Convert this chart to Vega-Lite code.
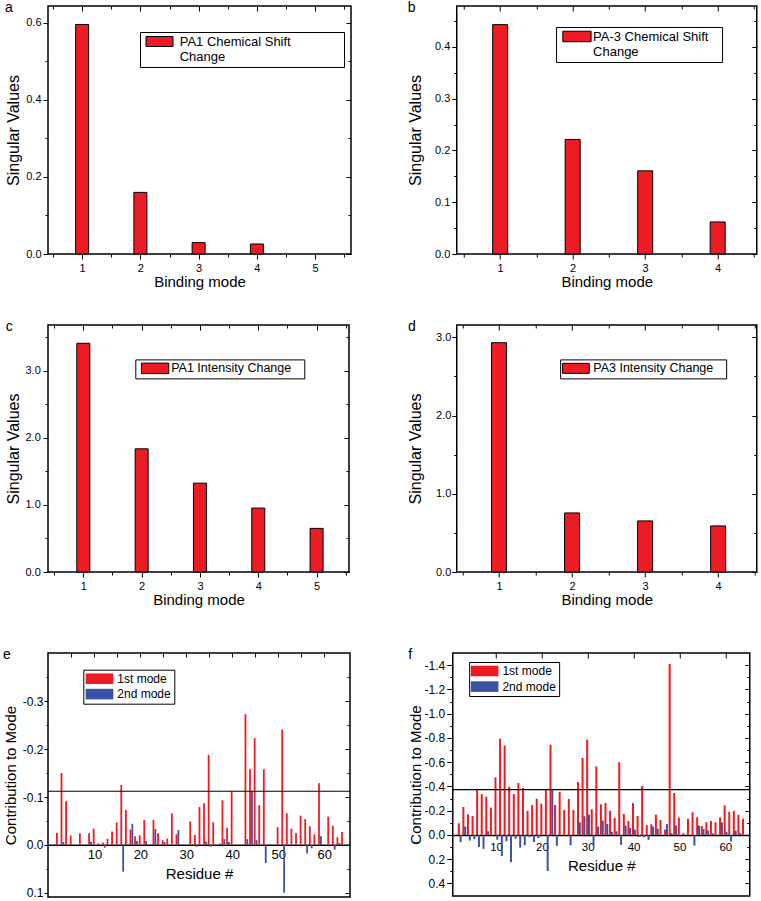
{
"$schema":"https://vega.github.io/schema/vega-lite/v6.json",
"background":"white",
"padding":{"left":2,"top":0,"right":0,"bottom":0},
"config":{
 "font":"Liberation Sans",
 "view":{"stroke":"black","strokeWidth":1.5},
 "axis":{"grid":false,"domain":false,"tickColor":"black","labelColor":"black","titleColor":"black","labelFont":"Liberation Sans","titleFont":"Liberation Sans","titleFontWeight":"normal","tickWidth":1,"labelOverlap":false,"labelFlush":false},
 "legend":{"labelFont":"Liberation Sans","labelColor":"black","labelLimit":0,"strokeColor":"black","fillColor":"white","title":null},
 "title":{"anchor":"start","frame":"bounds","fontSize":14,"fontWeight":"normal","font":"Liberation Sans","color":"black"}
},
"datasets":{
 "sv_a":[{"mode":1,"value":0.596,"series":"PA1 Chemical Shift Change"},{"mode":2,"value":0.160,"series":"PA1 Chemical Shift Change"},{"mode":3,"value":0.0295,"series":"PA1 Chemical Shift Change"},{"mode":4,"value":0.026,"series":"PA1 Chemical Shift Change"}],
 "sv_b":[{"mode":1,"value":0.443,"series":"PA-3 Chemical Shift Change"},{"mode":2,"value":0.2213,"series":"PA-3 Chemical Shift Change"},{"mode":3,"value":0.1606,"series":"PA-3 Chemical Shift Change"},{"mode":4,"value":0.0619,"series":"PA-3 Chemical Shift Change"}],
 "sv_c":[{"mode":1,"value":3.413,"series":"PA1 Intensity Change"},{"mode":2,"value":1.838,"series":"PA1 Intensity Change"},{"mode":3,"value":1.326,"series":"PA1 Intensity Change"},{"mode":4,"value":0.954,"series":"PA1 Intensity Change"},{"mode":5,"value":0.651,"series":"PA1 Intensity Change"}],
 "sv_d":[{"mode":1,"value":2.932,"series":"PA3 Intensity Change"},{"mode":2,"value":0.755,"series":"PA3 Intensity Change"},{"mode":3,"value":0.653,"series":"PA3 Intensity Change"},{"mode":4,"value":0.589,"series":"PA3 Intensity Change"}],
 "res_e":[
  {"residue":2,"mode":"1st mode","value":-0.025},{"residue":3,"mode":"1st mode","value":-0.150},{"residue":4,"mode":"1st mode","value":-0.091},{"residue":5,"mode":"1st mode","value":-0.0195},{"residue":7,"mode":"1st mode","value":-0.024},{"residue":9,"mode":"1st mode","value":-0.024},{"residue":10,"mode":"1st mode","value":-0.034},{"residue":11,"mode":"1st mode","value":-0.003},{"residue":12,"mode":"1st mode","value":-0.005},{"residue":13,"mode":"1st mode","value":-0.0125},{"residue":14,"mode":"1st mode","value":-0.028},{"residue":15,"mode":"1st mode","value":-0.047},{"residue":16,"mode":"1st mode","value":-0.125},{"residue":17,"mode":"1st mode","value":-0.073},{"residue":18,"mode":"1st mode","value":-0.032},{"residue":19,"mode":"1st mode","value":-0.018},{"residue":20,"mode":"1st mode","value":-0.020},{"residue":21,"mode":"1st mode","value":-0.052},{"residue":23,"mode":"1st mode","value":-0.052},{"residue":24,"mode":"1st mode","value":-0.024},{"residue":25,"mode":"1st mode","value":-0.010},{"residue":26,"mode":"1st mode","value":-0.013},{"residue":27,"mode":"1st mode","value":-0.066},{"residue":28,"mode":"1st mode","value":-0.022},{"residue":31,"mode":"1st mode","value":-0.049},{"residue":32,"mode":"1st mode","value":-0.021},{"residue":33,"mode":"1st mode","value":-0.079},{"residue":34,"mode":"1st mode","value":-0.087},{"residue":35,"mode":"1st mode","value":-0.188},{"residue":36,"mode":"1st mode","value":-0.047},{"residue":38,"mode":"1st mode","value":-0.093},{"residue":39,"mode":"1st mode","value":-0.036},{"residue":40,"mode":"1st mode","value":-0.112},{"residue":43,"mode":"1st mode","value":-0.273},{"residue":44,"mode":"1st mode","value":-0.158},{"residue":45,"mode":"1st mode","value":-0.223},{"residue":46,"mode":"1st mode","value":-0.083},{"residue":47,"mode":"1st mode","value":-0.158},{"residue":50,"mode":"1st mode","value":-0.037},{"residue":51,"mode":"1st mode","value":-0.241},{"residue":52,"mode":"1st mode","value":-0.066},{"residue":53,"mode":"1st mode","value":-0.034},{"residue":54,"mode":"1st mode","value":-0.025},{"residue":55,"mode":"1st mode","value":-0.061},{"residue":56,"mode":"1st mode","value":-0.054},{"residue":57,"mode":"1st mode","value":-0.039},{"residue":58,"mode":"1st mode","value":-0.022},{"residue":59,"mode":"1st mode","value":-0.129},{"residue":61,"mode":"1st mode","value":-0.059},{"residue":62,"mode":"1st mode","value":-0.040},{"residue":63,"mode":"1st mode","value":-0.016},{"residue":64,"mode":"1st mode","value":-0.027},
  {"residue":3,"mode":"2nd mode","value":-0.006},{"residue":9,"mode":"2nd mode","value":-0.007},{"residue":12,"mode":"2nd mode","value":0.006},{"residue":16,"mode":"2nd mode","value":0.056},{"residue":18,"mode":"2nd mode","value":-0.044},{"residue":19,"mode":"2nd mode","value":-0.008},{"residue":21,"mode":"2nd mode","value":-0.008},{"residue":23,"mode":"2nd mode","value":-0.033},{"residue":25,"mode":"2nd mode","value":-0.006},{"residue":28,"mode":"2nd mode","value":-0.031},{"residue":32,"mode":"2nd mode","value":0.004},{"residue":34,"mode":"2nd mode","value":-0.007},{"residue":35,"mode":"2nd mode","value":0.004},{"residue":37,"mode":"2nd mode","value":-0.003},{"residue":38,"mode":"2nd mode","value":-0.012},{"residue":39,"mode":"2nd mode","value":-0.006},{"residue":43,"mode":"2nd mode","value":-0.012},{"residue":44,"mode":"2nd mode","value":-0.112},{"residue":45,"mode":"2nd mode","value":-0.010},{"residue":47,"mode":"2nd mode","value":0.038},{"residue":51,"mode":"2nd mode","value":0.100},{"residue":56,"mode":"2nd mode","value":0.018},{"residue":57,"mode":"2nd mode","value":0.007},{"residue":59,"mode":"2nd mode","value":-0.018},{"residue":62,"mode":"2nd mode","value":0.010},{"residue":63,"mode":"2nd mode","value":-0.004}
 ],
 "res_f":[
  {"residue":2,"mode":"1st mode","value":-0.096},{"residue":3,"mode":"1st mode","value":-0.230},{"residue":4,"mode":"1st mode","value":-0.170},{"residue":5,"mode":"1st mode","value":-0.156},{"residue":6,"mode":"1st mode","value":-0.370},{"residue":7,"mode":"1st mode","value":-0.336},{"residue":8,"mode":"1st mode","value":-0.315},{"residue":9,"mode":"1st mode","value":-0.225},{"residue":10,"mode":"1st mode","value":-0.475},{"residue":11,"mode":"1st mode","value":-0.793},{"residue":12,"mode":"1st mode","value":-0.738},{"residue":13,"mode":"1st mode","value":-0.398},{"residue":14,"mode":"1st mode","value":-0.337},{"residue":15,"mode":"1st mode","value":-0.428},{"residue":16,"mode":"1st mode","value":-0.387},{"residue":17,"mode":"1st mode","value":-0.198},{"residue":18,"mode":"1st mode","value":-0.247},{"residue":19,"mode":"1st mode","value":-0.298},{"residue":20,"mode":"1st mode","value":-0.258},{"residue":21,"mode":"1st mode","value":-0.373},{"residue":22,"mode":"1st mode","value":-0.743},{"residue":23,"mode":"1st mode","value":-0.247},{"residue":24,"mode":"1st mode","value":-0.354},{"residue":25,"mode":"1st mode","value":-0.206},{"residue":26,"mode":"1st mode","value":-0.296},{"residue":27,"mode":"1st mode","value":-0.206},{"residue":28,"mode":"1st mode","value":-0.436},{"residue":29,"mode":"1st mode","value":-0.634},{"residue":30,"mode":"1st mode","value":-0.785},{"residue":31,"mode":"1st mode","value":-0.211},{"residue":32,"mode":"1st mode","value":-0.565},{"residue":33,"mode":"1st mode","value":-0.252},{"residue":34,"mode":"1st mode","value":-0.263},{"residue":35,"mode":"1st mode","value":-0.200},{"residue":36,"mode":"1st mode","value":-0.140},{"residue":37,"mode":"1st mode","value":-0.600},{"residue":38,"mode":"1st mode","value":-0.173},{"residue":39,"mode":"1st mode","value":-0.115},{"residue":40,"mode":"1st mode","value":-0.263},{"residue":41,"mode":"1st mode","value":-0.156},{"residue":42,"mode":"1st mode","value":-0.403},{"residue":43,"mode":"1st mode","value":-0.080},{"residue":44,"mode":"1st mode","value":-0.088},{"residue":45,"mode":"1st mode","value":-0.167},{"residue":46,"mode":"1st mode","value":-0.123},{"residue":47,"mode":"1st mode","value":-0.044},{"residue":48,"mode":"1st mode","value":-1.41},{"residue":49,"mode":"1st mode","value":-0.346},{"residue":50,"mode":"1st mode","value":-0.143},{"residue":51,"mode":"1st mode","value":-0.014},{"residue":52,"mode":"1st mode","value":-0.132},{"residue":53,"mode":"1st mode","value":-0.187},{"residue":54,"mode":"1st mode","value":-0.145},{"residue":55,"mode":"1st mode","value":-0.074},{"residue":56,"mode":"1st mode","value":-0.104},{"residue":57,"mode":"1st mode","value":-0.115},{"residue":58,"mode":"1st mode","value":-0.104},{"residue":59,"mode":"1st mode","value":-0.145},{"residue":60,"mode":"1st mode","value":-0.244},{"residue":61,"mode":"1st mode","value":-0.189},{"residue":62,"mode":"1st mode","value":-0.198},{"residue":63,"mode":"1st mode","value":-0.165},{"residue":64,"mode":"1st mode","value":-0.132},
  {"residue":2,"mode":"2nd mode","value":0.060},{"residue":3,"mode":"2nd mode","value":-0.069},{"residue":4,"mode":"2nd mode","value":0.047},{"residue":5,"mode":"2nd mode","value":0.035},{"residue":6,"mode":"2nd mode","value":0.100},{"residue":7,"mode":"2nd mode","value":0.115},{"residue":8,"mode":"2nd mode","value":-0.030},{"residue":10,"mode":"2nd mode","value":0.040},{"residue":11,"mode":"2nd mode","value":0.175},{"residue":12,"mode":"2nd mode","value":0.053},{"residue":13,"mode":"2nd mode","value":0.225},{"residue":14,"mode":"2nd mode","value":0.032},{"residue":15,"mode":"2nd mode","value":0.105},{"residue":16,"mode":"2nd mode","value":0.086},{"residue":17,"mode":"2nd mode","value":0.018},{"residue":18,"mode":"2nd mode","value":0.059},{"residue":19,"mode":"2nd mode","value":0.026},{"residue":21,"mode":"2nd mode","value":0.298},{"residue":22,"mode":"2nd mode","value":-0.373},{"residue":23,"mode":"2nd mode","value":0.090},{"residue":26,"mode":"2nd mode","value":0.085},{"residue":28,"mode":"2nd mode","value":-0.104},{"residue":29,"mode":"2nd mode","value":-0.154},{"residue":30,"mode":"2nd mode","value":-0.167},{"residue":31,"mode":"2nd mode","value":0.088},{"residue":32,"mode":"2nd mode","value":-0.069},{"residue":33,"mode":"2nd mode","value":-0.118},{"residue":34,"mode":"2nd mode","value":-0.090},{"residue":35,"mode":"2nd mode","value":-0.025},{"residue":36,"mode":"2nd mode","value":-0.030},{"residue":37,"mode":"2nd mode","value":0.082},{"residue":38,"mode":"2nd mode","value":-0.077},{"residue":39,"mode":"2nd mode","value":-0.058},{"residue":40,"mode":"2nd mode","value":-0.044},{"residue":41,"mode":"2nd mode","value":0.016},{"residue":42,"mode":"2nd mode","value":0.019},{"residue":43,"mode":"2nd mode","value":0.041},{"residue":44,"mode":"2nd mode","value":-0.069},{"residue":45,"mode":"2nd mode","value":-0.052},{"residue":47,"mode":"2nd mode","value":-0.090},{"residue":48,"mode":"2nd mode","value":-0.016},{"residue":49,"mode":"2nd mode","value":-0.077},{"residue":53,"mode":"2nd mode","value":0.088},{"residue":54,"mode":"2nd mode","value":-0.077},{"residue":55,"mode":"2nd mode","value":-0.049},{"residue":56,"mode":"2nd mode","value":-0.036},{"residue":57,"mode":"2nd mode","value":-0.014},{"residue":59,"mode":"2nd mode","value":-0.104},{"residue":60,"mode":"2nd mode","value":-0.025},{"residue":61,"mode":"2nd mode","value":0.055},{"residue":62,"mode":"2nd mode","value":-0.036},{"residue":63,"mode":"2nd mode","value":-0.016}
 ]
},
"resolve":{"scale":{"color":"independent"},"legend":{"color":"independent"}},
"columns":2,"align":"none","spacing":{"row":29,"column":53.75},
"concat":[
   {"width":303,"height":248,
    "title":{"text":"a","offset":-9.5},
    "data":{"name":"sv_a"},
    "layer":[
     {"mark":{"type":"bar","width":13,"stroke":"black","strokeWidth":1,"orient":"vertical"},
      "encoding":{
       "x":{"field":"mode","type":"quantitative","scale":{"domain":[0.5,5.53],"nice":false,"zero":false},
        "axis":{"orient":"bottom","title":"Binding mode","values":[0.5,1,1.5,2,2.5,3,3.5,4,4.5,5,5.5],"labelExpr":"datum.value % 1 === 0 ? format(datum.value, 'd') : ''","tickSize":{"condition":{"test":"datum.value % 1 === 0","value":5},"value":3},"labelFontSize":11,"labelPadding":3,"titleFontSize":15,"titlePadding":1}},
       "y":{"field":"value","type":"quantitative","scale":{"domain":[0,0.644],"nice":false},
        "axis":{"orient":"left","title":"Singular Values","values":[0,0.1,0.2,0.3,0.4,0.5,0.6],"labelExpr":"round(datum.value*10) % 2 === 0 ? format(datum.value, '.1f') : ''","tickSize":{"condition":{"test":"round(datum.value*10) % 2 === 0","value":5},"value":3},"labelFontSize":11,"labelPadding":2,"minExtent":22,"maxExtent":22,"titleFontSize":16,"titlePadding":5}},
       "color":{"field":"series","type":"nominal","scale":{"range":["#ED1C24"]},
        "legend":{"orient":"none","legendX":92,"legendY":26,"symbolType":"M-2.7,-1H2.7V1H-2.7Z","symbolSize":100,"symbolStrokeColor":"black","symbolStrokeWidth":1,"symbolOffset":10,"labelOffset":13.7,"labelFontSize":13,"padding":3,"labelExpr":"['PA1 Chemical Shift\u2800\u2800\u2800\u2800\u2800', 'Change']"}}
      }},
     {"mark":{"type":"bar","width":13,"opacity":0,"orient":"vertical"},
      "encoding":{
       "x":{"field":"mode","type":"quantitative","scale":{"domain":[0.5,5.53],"nice":false,"zero":false},
        "axis":{"orient":"top","title":null,"labels":false,"values":[0.5,1,1.5,2,2.5,3,3.5,4,4.5,5,5.5],"tickSize":{"condition":{"test":"datum.value % 1 === 0","value":-5},"value":-3}}},
       "y":{"field":"value","type":"quantitative","scale":{"domain":[0,0.644],"nice":false},
        "axis":{"orient":"right","title":null,"labels":false,"values":[0,0.1,0.2,0.3,0.4,0.5,0.6],"tickSize":{"condition":{"test":"round(datum.value*10) % 2 === 0","value":-5},"value":-3}}}
      }}
    ],
    "resolve":{"axis":{"x":"independent","y":"independent"}}
   },
   {"width":300,"height":248,
    "title":{"text":"b","offset":-9.5},
    "data":{"name":"sv_b"},
    "layer":[
     {"mark":{"type":"bar","width":15,"stroke":"black","strokeWidth":1,"orient":"vertical"},
      "encoding":{
       "x":{"field":"mode","type":"quantitative","scale":{"domain":[0.47,4.47],"nice":false,"zero":false},
        "axis":{"orient":"bottom","title":"Binding mode","values":[0.5,1,1.5,2,2.5,3,3.5,4,4.5],"labelExpr":"datum.value % 1 === 0 ? format(datum.value, 'd') : ''","tickSize":{"condition":{"test":"datum.value % 1 === 0","value":5},"value":3},"labelFontSize":11,"labelPadding":3,"titleFontSize":15,"titlePadding":1}},
       "y":{"field":"value","type":"quantitative","scale":{"domain":[0,0.479],"nice":false},
        "axis":{"orient":"left","title":"Singular Values","values":[0,0.05,0.1,0.15,0.2,0.25,0.3,0.35,0.4,0.45],"labelExpr":"round(datum.value*100) % 10 === 0 ? format(datum.value, '.1f') : ''","tickSize":{"condition":{"test":"round(datum.value*100) % 10 === 0","value":5},"value":3},"labelFontSize":11,"labelPadding":2,"minExtent":22,"maxExtent":22,"titleFontSize":16,"titlePadding":11}},
       "color":{"field":"series","type":"nominal","scale":{"range":["#ED1C24"]},
        "legend":{"orient":"none","legendX":99.3,"legendY":21,"symbolType":"M-2.83,-1.05H2.83V1.05H-2.83Z","symbolSize":100,"symbolStrokeColor":"black","symbolStrokeWidth":1,"symbolOffset":11.4,"labelOffset":9.6,"labelFontSize":13,"padding":3,"labelExpr":"['PA-3 Chemical Shift\u2800', 'Change']"}}
      }},
     {"mark":{"type":"bar","width":15,"opacity":0,"orient":"vertical"},
      "encoding":{
       "x":{"field":"mode","type":"quantitative","scale":{"domain":[0.47,4.47],"nice":false,"zero":false},
        "axis":{"orient":"top","title":null,"labels":false,"values":[0.5,1,1.5,2,2.5,3,3.5,4,4.5],"tickSize":{"condition":{"test":"datum.value % 1 === 0","value":-5},"value":-3}}},
       "y":{"field":"value","type":"quantitative","scale":{"domain":[0,0.479],"nice":false},
        "axis":{"orient":"right","title":null,"labels":false,"values":[0,0.05,0.1,0.15,0.2,0.25,0.3,0.35,0.4,0.45],"tickSize":{"condition":{"test":"round(datum.value*100) % 10 === 0","value":-5},"value":-3}}}
      }}
    ],
    "resolve":{"axis":{"x":"independent","y":"independent"}}
   },
   {"width":301,"height":247,
    "title":{"text":"c","offset":-9.5},
    "data":{"name":"sv_c"},
    "layer":[
     {"mark":{"type":"bar","width":13,"stroke":"black","strokeWidth":1,"orient":"vertical"},
      "encoding":{
       "x":{"field":"mode","type":"quantitative","scale":{"domain":[0.48,5.47],"nice":false,"zero":false},
        "axis":{"orient":"bottom","title":["Binding mode",""],"titleLineHeight":10,"values":[0.5,1,1.5,2,2.5,3,3.5,4,4.5,5,5.5],"labelExpr":"datum.value % 1 === 0 ? format(datum.value, 'd') : ''","tickSize":{"condition":{"test":"datum.value % 1 === 0","value":5},"value":3},"labelFontSize":11,"labelPadding":3,"titleFontSize":15,"titlePadding":1}},
       "y":{"field":"value","type":"quantitative","scale":{"domain":[0,3.686],"nice":false},
        "axis":{"orient":"left","title":"Singular Values","values":[0,0.5,1,1.5,2,2.5,3,3.5],"labelExpr":"datum.value % 1 === 0 ? format(datum.value, '.1f') : ''","tickSize":{"condition":{"test":"datum.value % 1 === 0","value":5},"value":3},"labelFontSize":11,"labelPadding":2.7,"minExtent":23,"maxExtent":23,"titleFontSize":16,"titlePadding":3.3}},
       "color":{"field":"series","type":"nominal","scale":{"range":["#ED1C24"]},
        "legend":{"orient":"none","legendX":87.3,"legendY":34.4,"symbolType":"M-2.73,-1.05H2.73V1.05H-2.73Z","symbolSize":100,"symbolStrokeColor":"black","symbolStrokeWidth":1,"symbolOffset":10.85,"labelOffset":9.85,"labelFontSize":12.5,"padding":2.7,"labelExpr":"'PA1 Intensity Change\u2800'"}}
      }},
     {"mark":{"type":"bar","width":13,"opacity":0,"orient":"vertical"},
      "encoding":{
       "x":{"field":"mode","type":"quantitative","scale":{"domain":[0.48,5.47],"nice":false,"zero":false},
        "axis":{"orient":"top","title":null,"labels":false,"values":[0.5,1,1.5,2,2.5,3,3.5,4,4.5,5,5.5],"tickSize":{"condition":{"test":"datum.value % 1 === 0","value":-5},"value":-3}}},
       "y":{"field":"value","type":"quantitative","scale":{"domain":[0,3.686],"nice":false},
        "axis":{"orient":"right","title":null,"labels":false,"values":[0,0.5,1,1.5,2,2.5,3,3.5],"tickSize":{"condition":{"test":"datum.value % 1 === 0","value":-5},"value":-3}}}
      }}
    ],
    "resolve":{"axis":{"x":"independent","y":"independent"}}
   },
   {"width":300,"height":247,
    "title":{"text":"d","offset":-9.5},
    "data":{"name":"sv_d"},
    "layer":[
     {"mark":{"type":"bar","width":15,"stroke":"black","strokeWidth":1,"orient":"vertical"},
      "encoding":{
       "x":{"field":"mode","type":"quantitative","scale":{"domain":[0.49,4.46],"nice":false,"zero":false},
        "axis":{"orient":"bottom","title":["Binding mode",""],"titleLineHeight":10,"values":[0.5,1,1.5,2,2.5,3,3.5,4,4.5],"labelExpr":"datum.value % 1 === 0 ? format(datum.value, 'd') : ''","tickSize":{"condition":{"test":"datum.value % 1 === 0","value":5},"value":3},"labelFontSize":11,"labelPadding":3,"titleFontSize":15,"titlePadding":1}},
       "y":{"field":"value","type":"quantitative","scale":{"domain":[0,3.158],"nice":false},
        "axis":{"orient":"left","title":"Singular Values","values":[0,0.5,1,1.5,2,2.5,3],"labelExpr":"datum.value % 1 === 0 ? format(datum.value, '.1f') : ''","tickSize":{"condition":{"test":"datum.value % 1 === 0","value":5},"value":3},"labelFontSize":11,"labelPadding":1,"minExtent":21,"maxExtent":21,"titleFontSize":16,"titlePadding":11.8}},
       "color":{"field":"series","type":"nominal","scale":{"range":["#ED1C24"]},
        "legend":{"orient":"none","legendX":103.4,"legendY":34.4,"symbolType":"M-2.67,-1H2.67V1H-2.67Z","symbolSize":100,"symbolStrokeColor":"black","symbolStrokeWidth":1,"symbolOffset":6.8,"labelOffset":11.1,"labelFontSize":12.5,"padding":2.7,"labelExpr":"'PA3 Intensity Change\u2800'"}}
      }},
     {"mark":{"type":"bar","width":15,"opacity":0,"orient":"vertical"},
      "encoding":{
       "x":{"field":"mode","type":"quantitative","scale":{"domain":[0.49,4.46],"nice":false,"zero":false},
        "axis":{"orient":"top","title":null,"labels":false,"values":[0.5,1,1.5,2,2.5,3,3.5,4,4.5],"tickSize":{"condition":{"test":"datum.value % 1 === 0","value":-5},"value":-3}}},
       "y":{"field":"value","type":"quantitative","scale":{"domain":[0,3.158],"nice":false},
        "axis":{"orient":"right","title":null,"labels":false,"values":[0,0.5,1,1.5,2,2.5,3],"tickSize":{"condition":{"test":"datum.value % 1 === 0","value":-5},"value":-3}}}
      }}
    ],
    "resolve":{"axis":{"x":"independent","y":"independent"}}
   },
  {"width":302,"height":244,
   "title":{"text":"e","offset":-9.5},
   "data":{"name":"res_e"},
   "layer":[
    {"transform":[{"filter":"datum.mode === '1st mode'"}],
     "mark":{"type":"bar","width":1.8,"xOffset":-0.7,"orient":"vertical"},
     "encoding":{
      "x":{"field":"residue","type":"quantitative","scale":{"domain":[1,64.5],"nice":false,"zero":false},
       "axis":{"orient":"bottom","offset":-52.15,"title":"Residue #","values":[10,20,30,40,50,60],"domain":true,"domainColor":"black","domainWidth":1.5,"ticks":false,"labelPadding":4,"labelFontSize":13,"titleFontSize":15,"titlePadding":5}},
      "y":{"field":"value","type":"quantitative","stack":null,"scale":{"domain":[-0.401,0.109],"reverse":true,"nice":false,"zero":false},
       "axis":{"orient":"left","title":"Contribution to Mode","values":[-0.35,-0.3,-0.25,-0.2,-0.15,-0.1,-0.05,0,0.05,0.1],"labelExpr":"abs(round(datum.value*100)) % 10 === 0 ? replace(format(datum.value, '.1f'), '\u2212', '-') : ''","tickSize":{"condition":{"test":"abs(round(datum.value*100)) % 10 === 0","value":4},"value":2},"labelFontSize":12,"labelPadding":1,"minExtent":25,"maxExtent":25,"titleFontSize":15,"titlePadding":5}},
      "color":{"field":"mode","type":"nominal","scale":{"domain":["1st mode","2nd mode"],"range":["#ED1C24","#3953A4"]},
       "legend":{"orient":"none","legendX":35.3,"legendY":16.7,"symbolType":"M-2.76,-1.06H2.76V1.06H-2.76Z","symbolSize":100,"symbolStrokeWidth":0,"symbolOffset":7.2,"labelOffset":11.8,"labelFontSize":12,"rowPadding":3.4,"padding":3}}
     }},
    {"transform":[{"filter":"datum.mode === '2nd mode'"}],
     "mark":{"type":"bar","width":1.8,"xOffset":1.2,"orient":"vertical"},
     "encoding":{
      "x":{"field":"residue","type":"quantitative","scale":{"domain":[1,64.5],"nice":false,"zero":false},"axis":null},
      "y":{"field":"value","type":"quantitative","stack":null,"scale":{"domain":[-0.401,0.109],"reverse":true,"nice":false,"zero":false},"axis":null},
      "color":{"field":"mode","type":"nominal","scale":{"domain":["1st mode","2nd mode"],"range":["#ED1C24","#3953A4"]}}
     }},
    {"data":{"values":[{"threshold":-0.112}]},
     "mark":{"type":"rule","color":"black","strokeWidth":1.2},
     "encoding":{"y":{"field":"threshold","type":"quantitative","scale":{"domain":[-0.401,0.109],"reverse":true,"nice":false,"zero":false},"axis":null}}},
    {"mark":{"type":"bar","width":1,"opacity":0,"orient":"vertical"},
     "encoding":{
      "x":{"field":"residue","type":"quantitative","scale":{"domain":[1,64.5],"nice":false,"zero":false},
       "axis":{"orient":"top","title":null,"labels":false,"values":[5,10,15,20,25,30,35,40,45,50,55,60],"tickSize":-4}},
      "y":{"field":"value","type":"quantitative","stack":null,"scale":{"domain":[-0.401,0.109],"reverse":true,"nice":false,"zero":false},
       "axis":{"orient":"right","title":null,"labels":false,"values":[-0.35,-0.3,-0.25,-0.2,-0.15,-0.1,-0.05,0,0.05,0.1],"tickSize":{"condition":{"test":"abs(round(datum.value*100)) % 10 === 0","value":-5},"value":-3}}}
     }}
   ],
   "resolve":{"axis":{"x":"independent","y":"independent"}}
  },
  {"width":297,"height":243,
   "title":{"text":"f","offset":-9.5},
   "data":{"name":"res_f"},
   "layer":[
    {"transform":[{"filter":"datum.mode === '1st mode'"}],
     "mark":{"type":"bar","width":2,"xOffset":-0.6,"orient":"vertical"},
     "encoding":{
      "x":{"field":"residue","type":"quantitative","scale":{"domain":[1.64,64.25],"nice":false,"zero":false},
       "axis":{"orient":"bottom","offset":-61.1,"title":"Residue #","values":[10,20,30,40,50,60],"domain":true,"domainColor":"black","domainWidth":1.5,"ticks":false,"labelPadding":7,"labelFontSize":11.5,"titleFontSize":15,"titlePadding":5}},
      "y":{"field":"value","type":"quantitative","stack":null,"scale":{"domain":[-1.5,0.504],"reverse":true,"nice":false,"zero":false},
       "axis":{"orient":"left","title":"Contribution to Mode","values":[-1.4,-1.3,-1.2,-1.1,-1.0,-0.9,-0.8,-0.7,-0.6,-0.5,-0.4,-0.3,-0.2,-0.1,0,0.1,0.2,0.3,0.4],"labelExpr":"abs(round(datum.value*10)) % 2 === 0 ? replace(format(datum.value, '.1f'), '\u2212', '-') : ''","tickSize":{"condition":{"test":"abs(round(datum.value*10)) % 2 === 0","value":6},"value":3},"labelFontSize":12,"labelPadding":2,"minExtent":29,"maxExtent":29,"titleFontSize":15,"titlePadding":0.5}},
      "color":{"field":"mode","type":"nominal","scale":{"domain":["1st mode","2nd mode"],"range":["#ED1C24","#3953A4"]},
       "legend":{"orient":"none","legendX":16.4,"legendY":9,"symbolType":"M-2.76,-1.06H2.76V1.06H-2.76Z","symbolSize":100,"symbolStrokeWidth":0,"symbolOffset":6.45,"labelOffset":11.85,"labelFontSize":12,"rowPadding":3.6,"padding":3}}
     }},
    {"transform":[{"filter":"datum.mode === '2nd mode'"}],
     "mark":{"type":"bar","width":2,"xOffset":1.2,"orient":"vertical"},
     "encoding":{
      "x":{"field":"residue","type":"quantitative","scale":{"domain":[1.64,64.25],"nice":false,"zero":false},"axis":null},
      "y":{"field":"value","type":"quantitative","stack":null,"scale":{"domain":[-1.5,0.504],"reverse":true,"nice":false,"zero":false},"axis":null},
      "color":{"field":"mode","type":"nominal","scale":{"domain":["1st mode","2nd mode"],"range":["#ED1C24","#3953A4"]}}
     }},
    {"data":{"values":[{"threshold":-0.373}]},
     "mark":{"type":"rule","color":"black","strokeWidth":1.2},
     "encoding":{"y":{"field":"threshold","type":"quantitative","scale":{"domain":[-1.5,0.504],"reverse":true,"nice":false,"zero":false},"axis":null}}},
    {"mark":{"type":"bar","width":1,"opacity":0,"orient":"vertical"},
     "encoding":{
      "x":{"field":"residue","type":"quantitative","scale":{"domain":[1.64,64.25],"nice":false,"zero":false},
       "axis":{"orient":"top","title":null,"labels":false,"values":[10,20,30,40,50,60],"tickSize":-5}},
      "y":{"field":"value","type":"quantitative","stack":null,"scale":{"domain":[-1.5,0.504],"reverse":true,"nice":false,"zero":false},
       "axis":{"orient":"right","title":null,"labels":false,"values":[-1.4,-1.3,-1.2,-1.1,-1.0,-0.9,-0.8,-0.7,-0.6,-0.5,-0.4,-0.3,-0.2,-0.1,0,0.1,0.2,0.3,0.4],"tickSize":{"condition":{"test":"abs(round(datum.value*10)) % 2 === 0","value":-5},"value":-3}}}
     }}
   ],
   "resolve":{"axis":{"x":"independent","y":"independent"}}
  }
]
}
